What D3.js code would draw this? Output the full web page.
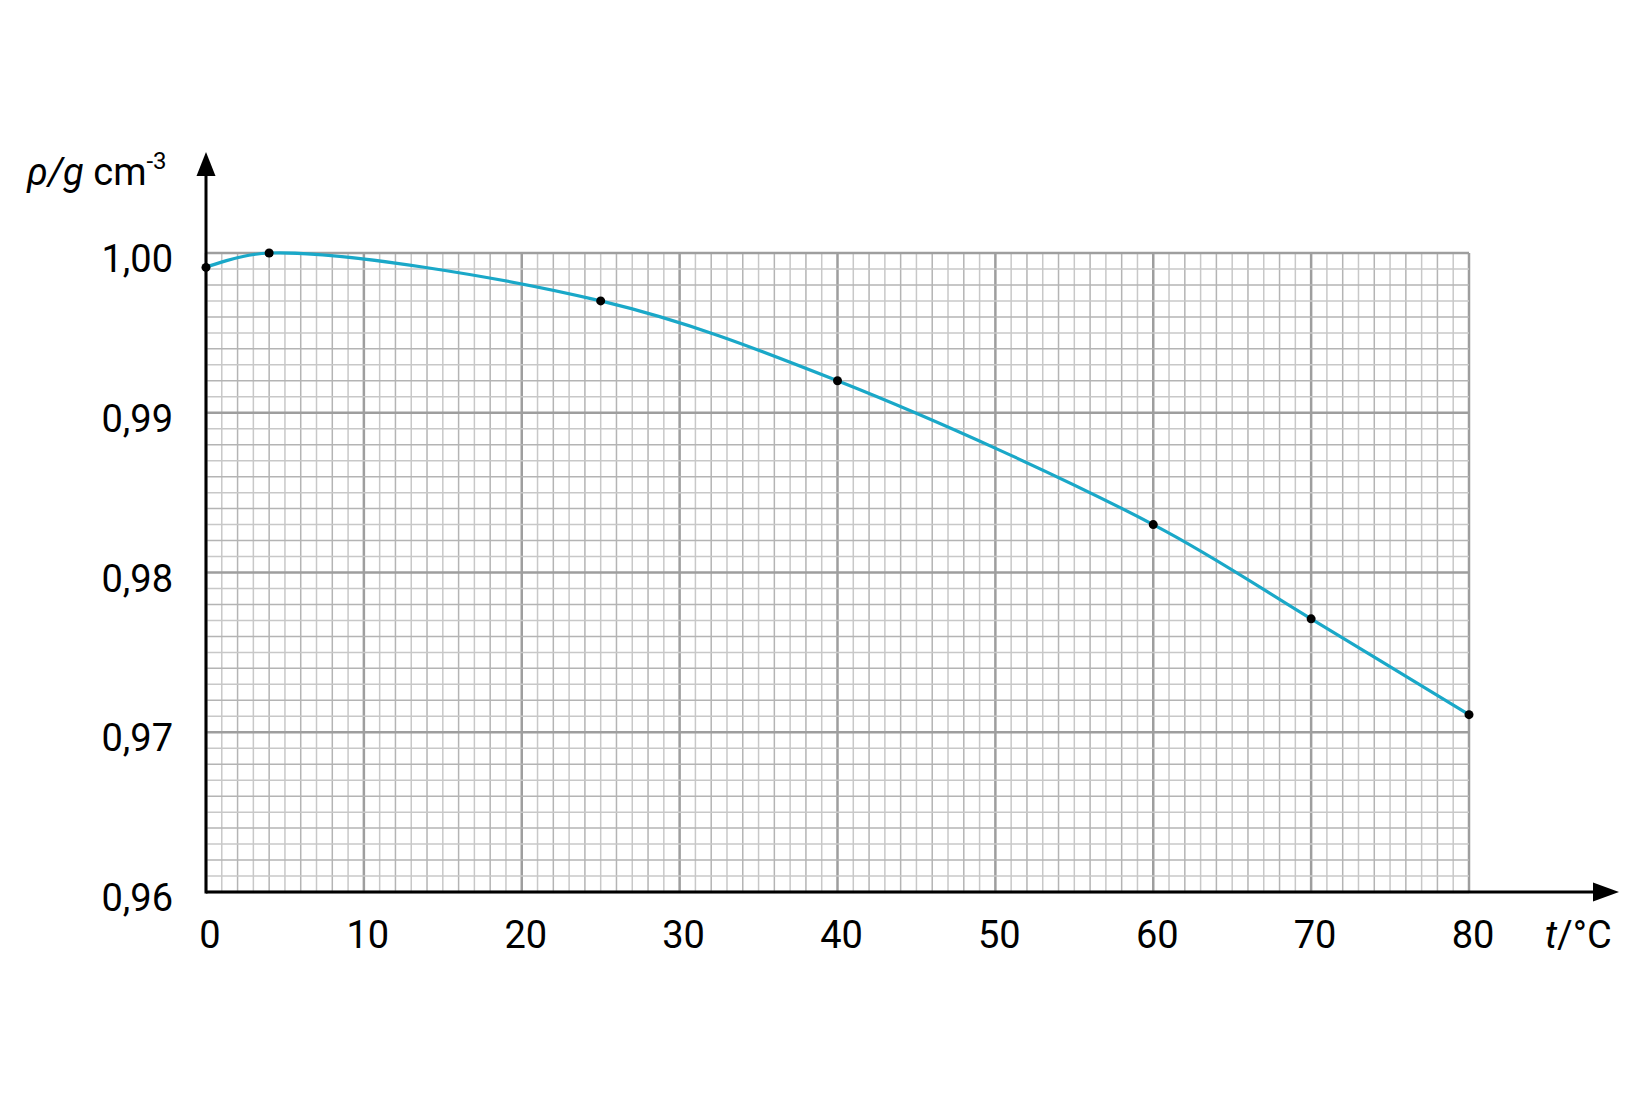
<!DOCTYPE html>
<html>
<head>
<meta charset="utf-8">
<script src="https://cdn.jsdelivr.net/npm/d3@7"></script>
<style>
  html, body { margin: 0; padding: 0; background: #fff; }
  svg { display: block; font-family: Roboto, "Noto Sans", sans-serif; }
</style>
</head>
<body>
<svg id="chart" width="1650" height="1100"></svg>
<script>
// Data
const temperatures = [0, 4, 25, 40, 60, 70, 80];
const densities = [0.9991, 1.0000, 0.9970, 0.9920, 0.9830, 0.9771, 0.9711];
const xTicks = [0, 10, 20, 30, 40, 50, 60, 70, 80];
const yTicks = [0.96, 0.97, 0.98, 0.99, 1.00];

const svg = d3.select("#chart");
const x = d3.scaleLinear().domain([0, 80]).range([206, 1469]);
const y = d3.scaleLinear().domain([0.96, 1.00]).range([892, 253]);

// grid
const grid = svg.append("g");
const minorX = d3.range(0, 81, 1);
const minorY = d3.range(0, 41, 1).map(i => 0.96 + i * 0.001);
grid.selectAll("line.mx").data(minorX).join("line")
  .attr("x1", d => x(d)).attr("x2", d => x(d))
  .attr("y1", y(0.96)).attr("y2", y(1.0))
  .attr("stroke", d => d % 10 === 0 ? "#9e9e9e" : (d % 2 === 0 ? "#b4b4b4" : "#c8c8c8"))
  .attr("stroke-width", d => d % 10 === 0 ? 2.5 : 1.5);
grid.selectAll("line.my").data(minorY).join("line")
  .attr("y1", d => y(d)).attr("y2", d => y(d))
  .attr("x1", x(0)).attr("x2", x(80))
  .attr("stroke", (d, i) => i % 10 === 0 ? "#9e9e9e" : (i % 2 === 0 ? "#b4b4b4" : "#c8c8c8"))
  .attr("stroke-width", (d, i) => i % 10 === 0 ? 2.5 : 1.5);

// axes
svg.append("line").attr("x1", x(0)).attr("x2", 1598).attr("y1", y(0.96)).attr("y2", y(0.96))
  .attr("stroke", "#000").attr("stroke-width", 3);
svg.append("line").attr("x1", x(0)).attr("x2", x(0)).attr("y1", y(0.96) + 1.5).attr("y2", 172)
  .attr("stroke", "#000").attr("stroke-width", 3);
// arrow heads
svg.append("path").attr("d", `M${x(0)},152 L${x(0) - 9.5},176 L${x(0) + 9.5},176 Z`).attr("fill", "#000");
svg.append("path").attr("d", `M1619,${y(0.96)} L1593,${y(0.96) - 9.5} L1593,${y(0.96) + 9.5} Z`).attr("fill", "#000");

// tick labels
const fmt = d => d.toFixed(2).replace(".", ",");
svg.append("g").selectAll("text").data(yTicks).join("text")
  .attr("x", 173).attr("y", d => y(d) + 19)
  .attr("text-anchor", "end").attr("font-size", 38).attr("fill", "#000")
  .text(fmt);
svg.append("g").selectAll("text").data(xTicks).join("text")
  .attr("x", d => x(d) + 4).attr("y", 948)
  .attr("text-anchor", "middle").attr("font-size", 38).attr("fill", "#000")
  .text(d => d);

// axis titles
const yt = svg.append("text").attr("x", 27).attr("y", 185).attr("font-size", 38).attr("fill", "#000");
yt.append("tspan").attr("font-style", "italic").text("ρ/g");
yt.append("tspan").text(" cm");
yt.append("tspan").attr("font-size", 24).attr("dy", -16).text("-3");

const xt = svg.append("text").attr("x", 1545).attr("y", 948).attr("font-size", 38).attr("fill", "#000");
xt.append("tspan").attr("font-style", "italic").text("t");
xt.append("tspan").text("/°C");

// curve
const pts = temperatures.map((t, i) => [t, densities[i]]);
const line = d3.line().x(d => x(d[0])).y(d => y(d[1])).curve(d3.curveCatmullRom.alpha(0.5));
svg.append("path").datum(pts).attr("d", line)
  .attr("fill", "none").attr("stroke", "#1aa8c8").attr("stroke-width", 3.2);

svg.append("g").selectAll("circle").data(pts).join("circle")
  .attr("cx", d => x(d[0])).attr("cy", d => y(d[1])).attr("r", 4.5).attr("fill", "#000");
</script>
</body>
</html>
